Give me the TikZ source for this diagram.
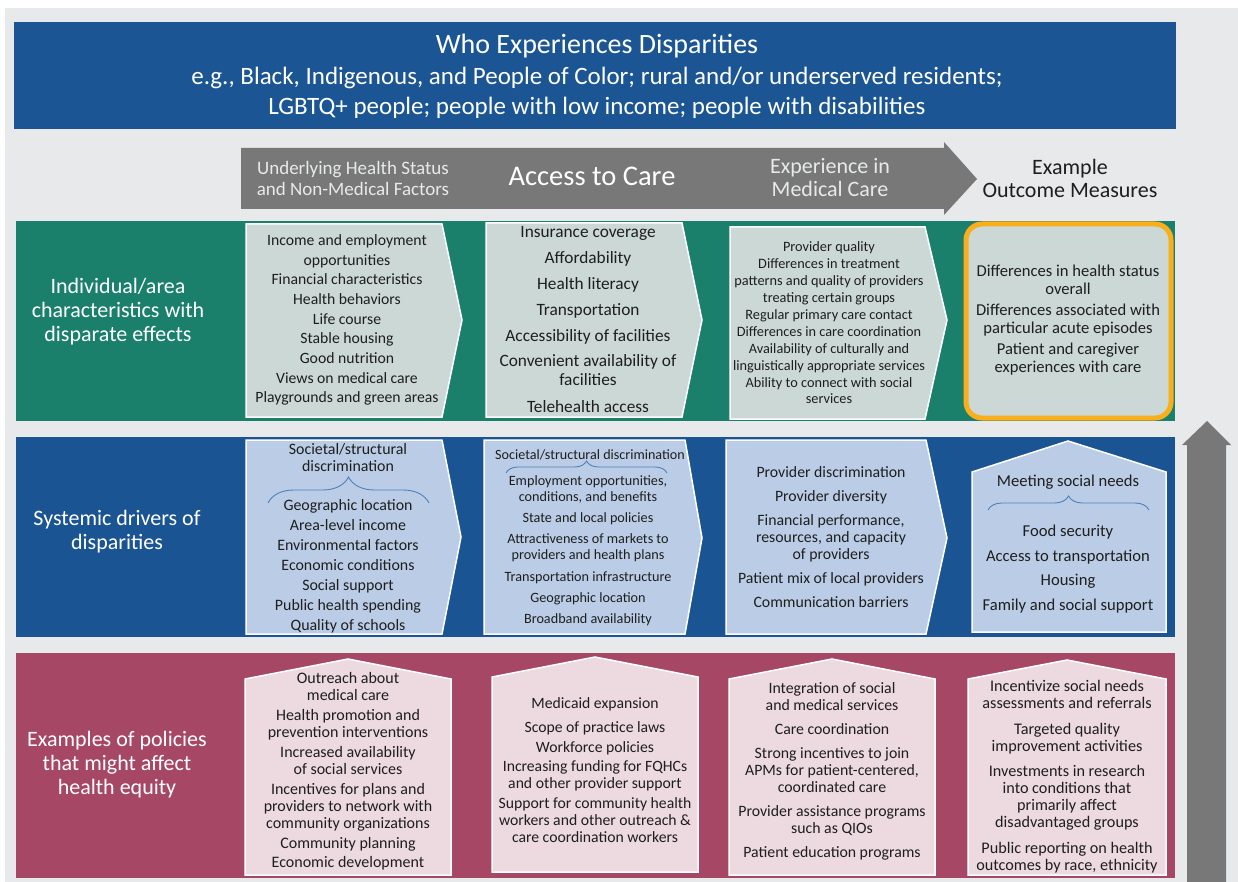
\documentclass[tikz,border=0pt]{standalone}
\usepackage{fontspec}
\setmainfont{Carlito}
\usetikzlibrary{decorations.pathreplacing}
\definecolor{pagegrey}{HTML}{E8E9EB}
\definecolor{bannerblue}{HTML}{1B5594}
\definecolor{flowgrey}{HTML}{777877}
\definecolor{rowgreen}{HTML}{1A806C}
\definecolor{rowblue}{HTML}{1A5493}
\definecolor{rowred}{HTML}{A54765}
\definecolor{boxgreen}{HTML}{CCD8D5}
\definecolor{boxblue}{HTML}{BBCDE6}
\definecolor{boxpink}{HTML}{EDD9E0}
\definecolor{outorange}{HTML}{F9AE1B}
\definecolor{bracecol}{HTML}{4F7FBA}
\definecolor{textdark}{HTML}{1E1E1E}
\tikzset{
  shapebox/.style = {draw=white, line width=1.5pt, line join=miter},
  item/.style = {align=center, inner sep=0pt, text=textdark},
  bandlabel/.style = {align=center, inner sep=0pt, text=white,
                      font=\fontsize{22}{24}\selectfont},
  headlabel/.style = {align=center, inner sep=0pt},
  bracket/.style = {decorate, decoration={brace, amplitude=#1},
                    draw=bracecol, line width=0.9pt}
}

\begin{document}
\begin{tikzpicture}[x=1pt, y=-1pt]
  \useasboundingbox (0,0) rectangle (1238,882);
  \fill[pagegrey] (5,8) rectangle (1238,882);

  % who experiences disparities
  \fill[bannerblue] (14,22) rectangle (1176,129);
  \node[bandlabel, font=\fontsize{28}{30}\selectfont] (whotitle) at (597,46) {Who Experiences Disparities};
  \node[bandlabel, font=\fontsize{25}{30}\selectfont] (whogroups) at (597,93)
    {e.g., Black, Indigenous, and People of Color; rural and/or underserved residents;\\
     LGBTQ+ people; people with low income; people with disabilities};

  % flow of care
  \fill[flowgrey] (241,148) -- (944,148) -- (944,142) -- (977,179) -- (944,215)
    -- (944,209) -- (241,209) -- cycle;
  \node[headlabel, text=pagegrey, font=\fontsize{19}{21}\selectfont] (underlying) at (353,178)
    {Underlying Health Status\\ and Non-Medical Factors};
  \node[headlabel, text=white, font=\fontsize{28.5}{30}\selectfont] (access) at (592,176) {Access to Care};
  \node[headlabel, text=pagegrey, font=\fontsize{22}{23}\selectfont] (experience) at (830,178)
    {Experience in\\ Medical Care};
  \node[headlabel, text=textdark, font=\fontsize{22}{23}\selectfont] (outcome) at (1070,178)
    {Example\\ Outcome Measures};

  % upward arrow
  \fill[flowgrey] (1187,882) -- (1187,445) -- (1182,445) -- (1207,421) -- (1231,445)
    -- (1226,445) -- (1226,882) -- cycle;

  % row 1: individual/area characteristics
  \fill[rowgreen] (16,221) rectangle (1175,421);
  \node[bandlabel] (indiv) at (118,312) {Individual/area\\ characteristics with\\ disparate effects};
  \draw[shapebox, fill=boxgreen] (246,224) -- (442,224) -- (462,320) -- (442,417) -- (246,417) -- cycle;
  \node[item, font=\fontsize{15.7}{19.7}\selectfont] (indivfactors) at (347,320)
    {Income and employment\\ opportunities\\ Financial characteristics\\ Health behaviors\\
     Life course\\ Stable housing\\ Good nutrition\\ Views on medical care\\ Playgrounds and green areas};
  \draw[shapebox, fill=boxgreen] (486,223) -- (682,223) -- (702,320) -- (682,417) -- (486,417) -- cycle;
  \node[item, font=\fontsize{17.3}{19}\selectfont] (indivaccess) at (588,320)
    {Insurance coverage\\[7pt] Affordability\\[7pt] Health literacy\\[7pt] Transportation\\[7pt]
     Accessibility of facilities\\[6pt] Convenient availability of\\ facilities\\[8pt] Telehealth access};
  \draw[shapebox, fill=boxgreen] (730,227) -- (925,227) -- (947,320) -- (925,419) -- (730,419) -- cycle;
  \node[item, font=\fontsize{14.3}{16.9}\selectfont] (indivcare) at (829,323)
    {Provider quality\\ Differences in treatment\\ patterns and quality of providers\\
     treating certain groups\\ Regular primary care contact\\ Differences in care coordination\\
     Availability of culturally and\\ linguistically appropriate services\\
     Ability to connect with social\\ services};
  \draw[draw=outorange, line width=5pt, fill=boxgreen, rounded corners=16pt] (966,224) rectangle (1171,418);
  \node[item, font=\fontsize{16.6}{18}\selectfont] (indivoutcome) at (1068,320)
    {Differences in health status\\ overall\\[3pt] Differences associated with\\
     particular acute episodes\\[3pt] Patient and caregiver\\ experiences with care};

  % row 2: systemic drivers
  \fill[rowblue] (16,437) rectangle (1175,637);
  \node[bandlabel] (systemic) at (117,532) {Systemic drivers of\\ disparities};
  \draw[shapebox, fill=boxblue] (246,440) -- (442,440) -- (461,537) -- (442,634) -- (246,634) -- cycle;
  \node[item, font=\fontsize{15.9}{17}\selectfont] (sysdiscr) at (348,457.5)
    {Societal/structural\\ discrimination};
  \draw[bracket=26] (268,503) -- (429,503);
  \node[item, font=\fontsize{15.9}{20}\selectfont] (sysfactors) at (348,566)
    {Geographic location\\ Area-level income\\ Environmental factors\\ Economic conditions\\
     Social support\\ Public health spending\\ Quality of schools};
  \draw[shapebox, fill=boxblue] (484,440) -- (685,440) -- (702,538) -- (685,634) -- (484,634) -- cycle;
  \node[item, font=\fontsize{14.1}{16}\selectfont] (sysdiscraccess) at (590,455)
    {Societal/structural discrimination};
  \draw[bracket=12] (506,473) -- (667,473);
  \node[item, font=\fontsize{14.2}{16}\selectfont] (sysaccess) at (588,551)
    {Employment opportunities,\\ conditions, and benefits\\[5pt] State and local policies\\[5pt]
     Attractiveness of markets to\\ providers and health plans\\[6pt] Transportation infrastructure\\[5pt]
     Geographic location\\[5pt] Broadband availability};
  \draw[shapebox, fill=boxblue] (726,440) -- (926,440) -- (947,538) -- (926,634) -- (726,634) -- cycle;
  \node[item, font=\fontsize{15.8}{17}\selectfont] (syscare) at (831,537.5)
    {Provider discrimination\\[7pt] Provider diversity\\[7pt] Financial performance,\\
     resources, and capacity\\ of providers\\[7pt] Patient mix of local providers\\[7pt]
     Communication barriers};
  \draw[shapebox, fill=boxblue] (972,472) -- (1068,441) -- (1166,472) -- (1166,632) -- (972,632) -- cycle;
  \node[item, font=\fontsize{16.6}{17}\selectfont] (sysneeds) at (1068,482) {Meeting social needs};
  \draw[bracket=14] (988,510) -- (1149,510);
  \node[item, font=\fontsize{16.6}{24.7}\selectfont] (sysoutcome) at (1068,569)
    {Food security\\ Access to transportation\\ Housing\\ Family and social support};

  % row 3: policies
  \fill[rowred] (16,653) rectangle (1175,878);
  \node[bandlabel] (policies) at (117,765) {Examples of policies\\ that might affect\\ health equity};
  \draw[shapebox, fill=boxpink] (245,679) -- (348,659) -- (451,679) -- (451,875) -- (245,875) -- cycle;
  \node[item, font=\fontsize{16}{17}\selectfont] (polfactors) at (348,771)
    {Outreach about\\ medical care\\[3pt] Health promotion and\\ prevention interventions\\[3pt]
     Increased availability\\ of social services\\[3pt] Incentives for plans and\\
     providers to network with\\ community organizations\\[3pt] Community planning\\[2pt]
     Economic development};
  \draw[shapebox, fill=boxpink] (492,677) -- (595,657) -- (698,677) -- (698,872) -- (492,872) -- cycle;
  \node[item, font=\fontsize{15.7}{17}\selectfont] (polaccess) at (595,770)
    {Medicaid expansion\\[7pt] Scope of practice laws\\[3pt] Workforce policies\\[2pt]
     Increasing funding for FQHCs\\ and other provider support\\[3pt]
     Support for community health\\ workers and other outreach \&\\ care coordination workers};
  \draw[shapebox, fill=boxpink] (729,679) -- (832,659) -- (935,679) -- (935,875) -- (729,875) -- cycle;
  \node[item, font=\fontsize{15.8}{17}\selectfont] (polcare) at (832,771.5)
    {Integration of social\\ and medical services\\[7pt] Care coordination\\[7pt]
     Strong incentives to join\\ APMs for patient-centered,\\ coordinated care\\[7pt]
     Provider assistance programs\\ such as QIOs\\[7pt] Patient education programs};
  \draw[shapebox, fill=boxpink] (968,679) -- (1067,660) -- (1166,679) -- (1166,875) -- (968,875) -- cycle;
  \node[item, font=\fontsize{16.2}{17}\selectfont] (poloutcome) at (1067,776.5)
    {Incentivize social needs\\ assessments and referrals\\[9pt] Targeted quality\\
     improvement activities\\[8pt] Investments in research\\ into conditions that\\
     primarily affect\\ disadvantaged groups\\[9pt] Public reporting on health\\
     outcomes by race, ethnicity};
\end{tikzpicture}
\end{document}
